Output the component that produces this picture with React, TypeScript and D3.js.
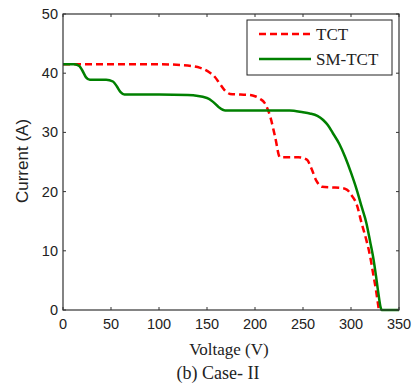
import React from 'react';
import { scaleLinear, line, curveMonotoneX } from 'd3';

const tctVoltage = [0, 20, 50, 100, 122, 143, 152, 158, 163, 168, 174, 185, 195, 200, 205, 210, 216, 221, 226, 232, 245, 254, 259, 264, 270, 280, 290, 296, 300, 306, 311, 316, 320, 323, 326, 329];
const tctCurrent = [41.5, 41.5, 41.5, 41.5, 41.4, 40.9, 40.2, 39.4, 38.3, 37.2, 36.5, 36.4, 36.3, 36.1, 35.7, 35.0, 32.6, 29.2, 25.8, 25.8, 25.8, 25.4, 23.8, 21.8, 20.8, 20.7, 20.6, 20.3, 19.5, 17.8, 14.7, 11.8, 9.0, 6.2, 3.4, 0];

const smVoltage = [0, 12, 17, 20, 24, 28, 45, 52, 56, 60, 64, 100, 130, 150, 156, 162, 169, 200, 236, 250, 257, 265, 271, 276, 281, 288, 294, 300, 306, 311, 316, 320, 323, 326, 328, 332, 350];
const smCurrent = [41.5, 41.5, 41.2, 40.5, 39.3, 38.9, 38.9, 38.6, 37.8, 36.8, 36.4, 36.4, 36.3, 35.8, 35.2, 34.3, 33.7, 33.7, 33.7, 33.4, 33.2, 32.8, 32.1, 31.2, 29.9, 28.0, 25.8, 23.2, 20.3, 17.5, 14.7, 11.5, 9.0, 5.8, 3.4, 0, 0];

const xTicks = [0, 50, 100, 150, 200, 250, 300, 350];
const yTicks = [0, 10, 20, 30, 40, 50];
const seriesNames = ['TCT', 'SM-TCT'];

const left = 63;
const right = 399;
const top = 14;
const bottom = 310;

export default function App() {
  const x = scaleLinear().domain([0, 350]).range([left, right]);
  const y = scaleLinear().domain([0, 50]).range([bottom, top]);

  const gen = line<[number, number]>()
    .x(d => x(d[0]))
    .y(d => y(d[1]))
    .curve(curveMonotoneX);

  const tct = gen(tctVoltage.map((v, i) => [v, tctCurrent[i]])) || '';
  const sm = gen(smVoltage.map((v, i) => [v, smCurrent[i]])) || '';

  const tickFont = { fontFamily: "'Liberation Sans', Arial, sans-serif", fontSize: 14.5, fill: '#222' };
  const serif = { fontFamily: "'Liberation Serif', 'Times New Roman', serif", fontSize: 17, fill: '#222' };

  return (
    <svg width={414} height={388} style={{ position: 'absolute', left: 0, top: 0, background: '#fff' }}>
      <path d={tct} fill="none" stroke="#ff0000" strokeWidth={2.5} strokeDasharray="7,4" />
      <path d={sm} fill="none" stroke="#008000" strokeWidth={2.5} />

      <rect x={left} y={top} width={right - left} height={bottom - top} fill="none" stroke="#333" strokeWidth={1.2} />

      {xTicks.map(t => (
        <g key={'x' + t}>
          <line x1={x(t)} x2={x(t)} y1={bottom} y2={bottom - 3} stroke="#333" />
          <line x1={x(t)} x2={x(t)} y1={top} y2={top + 3} stroke="#333" />
          <text x={x(t)} y={bottom + 19} textAnchor="middle" {...tickFont}>{t}</text>
        </g>
      ))}
      {yTicks.map(t => (
        <g key={'y' + t}>
          <line x1={left} x2={left + 3} y1={y(t)} y2={y(t)} stroke="#333" />
          <line x1={right} x2={right - 3} y1={y(t)} y2={y(t)} stroke="#333" />
          <text x={left - 5} y={y(t) + 5} textAnchor="end" {...tickFont}>{t}</text>
        </g>
      ))}

      <text x={229} y={355} textAnchor="middle" {...serif}>Voltage (V)</text>
      <text x={218} y={379} textAnchor="middle" {...serif} fontSize={18}>(b) Case- II</text>
      <text transform="translate(28,161) rotate(-90)" textAnchor="middle" {...tickFont} fontSize={17}>Current (A)</text>

      <g>
        <rect x={247} y={20} width={145} height={55} fill="#fff" stroke="#222" strokeWidth={1} />
        <line x1={259} x2={311} y1={34} y2={34} stroke="#ff0000" strokeWidth={2.5} strokeDasharray="7,4" />
        <line x1={259} x2={311} y1={59} y2={59} stroke="#008000" strokeWidth={2.5} />
        <text x={316} y={40} {...serif}>{seriesNames[0]}</text>
        <text x={316} y={65} {...serif}>{seriesNames[1]}</text>
      </g>
    </svg>
  );
}
